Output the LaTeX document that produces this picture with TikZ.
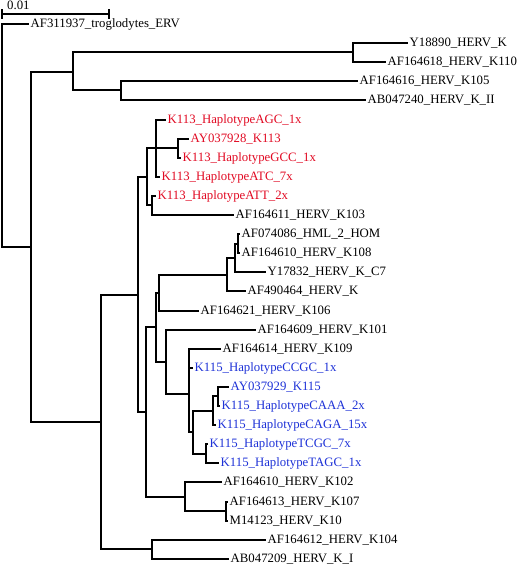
\documentclass[tikz,border=0pt]{standalone}
\usepackage{fontspec}
\setmainfont{Liberation Serif}
\definecolor{kred}{RGB}{225,10,35}
\definecolor{kblue}{RGB}{30,50,215}
\begin{document}
\begin{tikzpicture}[x=1pt,y=-1pt,
  br/.style={line width=2pt, line cap=rect},
  lab/.style={anchor=west, inner xsep=2.5pt, inner ysep=0pt, font=\fontsize{12.8}{14}\selectfont}]
\useasboundingbox (0,0) rectangle (520,565);
% scale bar
\coordinate (sbL) at (2,14);
\coordinate (sbR) at (109,14);
\draw[br] (sbL) -- (sbR);
\draw[br] ([yshift=-4pt]sbL) -- ([yshift=4pt]sbL);
\draw[br] ([yshift=-4pt]sbR) -- ([yshift=4pt]sbR);
\node[anchor=base west, inner sep=0pt, font=\fontsize{12.8}{14}\selectfont] (sblab) at (7,9.6) {0.01};
% internal nodes
\coordinate (root) at (2,136);
\coordinate (n1) at (31,247);
\coordinate (n2) at (73,72);
\coordinate (n3) at (353,52);
\coordinate (n4) at (121,90);
\coordinate (n5) at (101,422);
\coordinate (nA) at (138,295);
\coordinate (nB) at (147,177);
\coordinate (nE) at (156,148);
\coordinate (nF) at (178,148);
\coordinate (nC) at (152,205);
\coordinate (nG) at (146,412);
\coordinate (nJ) at (156,327);
\coordinate (nK) at (159,293);
\coordinate (nL) at (227,275);
\coordinate (nM) at (235,258);
\coordinate (nN) at (238,244);
\coordinate (nO) at (166,362);
\coordinate (nP) at (189,394);
\coordinate (nQ) at (193,432);
\coordinate (nR) at (213,411);
\coordinate (nT) at (218,396);
\coordinate (nS) at (206,454);
\coordinate (nH) at (185,497);
\coordinate (nI) at (226,511);
\coordinate (nX) at (152,549);
% leaves
\node[lab] (trog) at (28,24) {AF311937\_troglodytes\_ERV};
\node[lab] (Y18890) at (407,43) {Y18890\_HERV\_K};
\node[lab] (K110) at (385,62) {AF164618\_HERV\_K110};
\node[lab] (K105) at (357,81) {AF164616\_HERV\_K105};
\node[lab] (KII) at (365,100) {AB047240\_HERV\_K\_II};
\node[lab,kred] (AGC) at (165,120) {K113\_HaplotypeAGC\_1x};
\node[lab,kred] (AY113) at (188,139) {AY037928\_K113};
\node[lab,kred] (GCC) at (180,158) {K113\_HaplotypeGCC\_1x};
\node[lab,kred] (ATC) at (159,177) {K113\_HaplotypeATC\_7x};
\node[lab,kred] (ATT) at (155,196) {K113\_HaplotypeATT\_2x};
\node[lab] (K103) at (233,215) {AF164611\_HERV\_K103};
\node[lab] (HML) at (239,234) {AF074086\_HML\_2\_HOM};
\node[lab] (K108) at (239,253) {AF164610\_HERV\_K108};
\node[lab] (C7) at (265,272) {Y17832\_HERV\_K\_C7};
\node[lab] (AF490) at (245,291) {AF490464\_HERV\_K};
\node[lab] (K106) at (198,311) {AF164621\_HERV\_K106};
\node[lab] (K101) at (255,330) {AF164609\_HERV\_K101};
\node[lab] (K109) at (220,349) {AF164614\_HERV\_K109};
\node[lab,kblue] (CCGC) at (192,368) {K115\_HaplotypeCCGC\_1x};
\node[lab,kblue] (AY115) at (228,387) {AY037929\_K115};
\node[lab,kblue] (CAAA) at (219,406) {K115\_HaplotypeCAAA\_2x};
\node[lab,kblue] (CAGA) at (215,425) {K115\_HaplotypeCAGA\_15x};
\node[lab,kblue] (TCGC) at (207,444) {K115\_HaplotypeTCGC\_7x};
\node[lab,kblue] (TAGC) at (218,463) {K115\_HaplotypeTAGC\_1x};
\node[lab] (K102) at (221,482) {AF164610\_HERV\_K102};
\node[lab] (K107) at (227,502) {AF164613\_HERV\_K107};
\node[lab] (K10) at (227,521) {M14123\_HERV\_K10};
\node[lab] (K104) at (265,540) {AF164612\_HERV\_K104};
\node[lab] (KI) at (228,559) {AB047209\_HERV\_K\_I};
% branches to internal nodes
\foreach \p/\c in {root/n1, n1/n2, n1/n5, n2/n3, n2/n4, n5/nA, n5/nX, nA/nB, nA/nG,
  nB/nE, nB/nC, nE/nF, nG/nJ, nG/nH, nJ/nK, nJ/nO, nK/nL, nL/nM, nM/nN,
  nO/nP, nP/nQ, nQ/nR, nQ/nS, nR/nT, nH/nI}
  \draw[br] (\p) |- (\c);
% branches to leaves
\foreach \p/\c in {root/trog, n3/Y18890, n3/K110, n4/K105, n4/KII,
  nE/AGC, nE/ATC, nF/AY113, nF/GCC, nC/ATT, nC/K103,
  nN/HML, nN/K108, nM/C7, nL/AF490, nK/K106, nO/K101,
  nP/K109, nP/CCGC, nR/CAGA, nT/AY115, nT/CAAA, nS/TCGC, nS/TAGC,
  nH/K102, nI/K107, nI/K10, nX/K104, nX/KI}
  \draw[br] (\p) |- (\c.west);
\end{tikzpicture}
\end{document}
